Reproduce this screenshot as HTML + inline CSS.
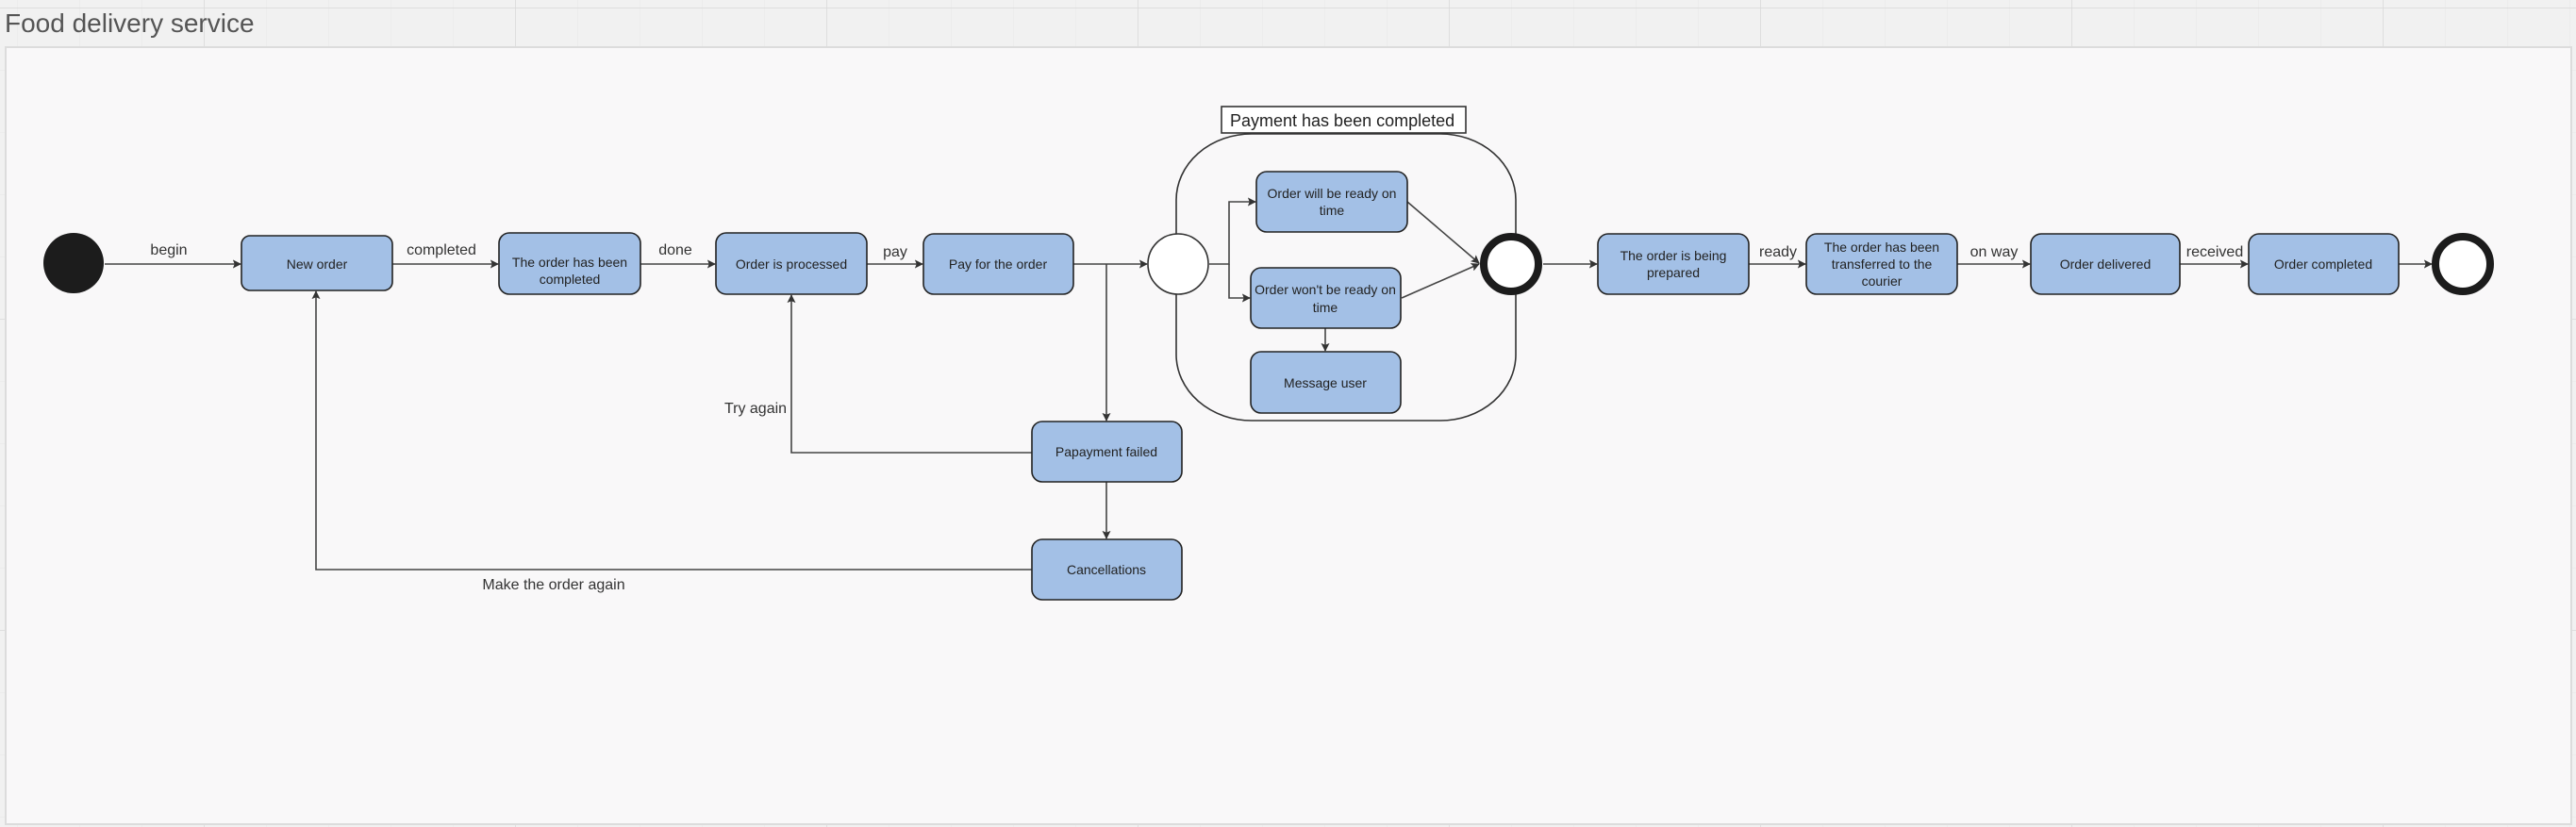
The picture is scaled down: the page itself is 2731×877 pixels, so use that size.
<!DOCTYPE html>
<html><head><meta charset="utf-8"><style>
html,body{margin:0;padding:0;background:#f1f1f1;}
svg{display:block;font-family:"Liberation Sans",sans-serif;}
</style></head><body>
<svg width="2731" height="877" viewBox="0 0 2731 877" xmlns="http://www.w3.org/2000/svg">
<defs>
<pattern id="minor" width="66" height="66" patternUnits="userSpaceOnUse" x="18" y="8">
<path d="M0 0V66M0 0H66" stroke="#e6e6e6" stroke-width="1" fill="none"/>
</pattern>
<pattern id="major" width="330" height="330" patternUnits="userSpaceOnUse" x="216" y="8">
<path d="M0 0V330M0 0H330" stroke="#d8d8d8" stroke-width="1.5" fill="none"/>
</pattern>
<marker id="ar" viewBox="0 0 10 10" refX="9" refY="5" markerWidth="9" markerHeight="9" markerUnits="userSpaceOnUse" orient="auto">
<path d="M0 0L10 5L0 10L2 5z" fill="#333"/>
</marker>
</defs>
<rect width="2731" height="877" fill="#f1f1f1"/>
<rect width="2731" height="877" fill="url(#minor)"/>
<rect width="2731" height="877" fill="url(#major)"/>
<text x="5" y="34" font-size="28" fill="#555">Food delivery service</text>
<rect x="6" y="50" width="2720" height="824" fill="#f9f8f9" stroke="#dcdcdc" stroke-width="2"/>

<g stroke="#444" stroke-width="1.6" fill="none">
<line x1="111" y1="280" x2="255" y2="280" marker-end="url(#ar)"/>
<line x1="416" y1="280" x2="528" y2="280" marker-end="url(#ar)"/>
<line x1="679" y1="280" x2="758" y2="280" marker-end="url(#ar)"/>
<line x1="919" y1="280" x2="978" y2="280" marker-end="url(#ar)"/>
<line x1="1138" y1="280" x2="1216" y2="280" marker-end="url(#ar)"/>
<line x1="1173" y1="280" x2="1173" y2="446" marker-end="url(#ar)"/>
<line x1="1173" y1="511" x2="1173" y2="571" marker-end="url(#ar)"/>
<polyline points="1094,480 839,480 839,313" marker-end="url(#ar)"/>
<polyline points="1094,604 335,604 335,309" marker-end="url(#ar)"/>
<polyline points="1282,280 1303,280 1303,214 1331,214" marker-end="url(#ar)"/>
<polyline points="1303,280 1303,316 1325,316" marker-end="url(#ar)"/>
<line x1="1405" y1="348" x2="1405" y2="372" marker-end="url(#ar)"/>
<line x1="1492" y1="214" x2="1568" y2="279" marker-end="url(#ar)"/>
<line x1="1486" y1="316" x2="1568" y2="280" marker-end="url(#ar)"/>
<line x1="1636" y1="280" x2="1693" y2="280" marker-end="url(#ar)"/>
<line x1="1854" y1="280" x2="1914" y2="280" marker-end="url(#ar)"/>
<line x1="2075" y1="280" x2="2152" y2="280" marker-end="url(#ar)"/>
<line x1="2311" y1="280" x2="2383" y2="280" marker-end="url(#ar)"/>
<line x1="2543" y1="280" x2="2578" y2="280" marker-end="url(#ar)"/>
</g>

<!-- container -->
<rect x="1247" y="142" width="360" height="304" rx="80" ry="70" fill="none" stroke="#333" stroke-width="1.6"/>
<rect x="1295" y="113" width="259" height="28" fill="#fff" stroke="#333" stroke-width="1.6"/>
<text x="1304" y="134" font-size="18" fill="#222">Payment has been completed</text>

<circle cx="78" cy="279" r="32" fill="#1c1c1c"/>
<circle cx="1249" cy="280" r="32" fill="#fff" stroke="#333" stroke-width="1.6"/>
<circle cx="1602" cy="280" r="29" fill="#fff" stroke="#1c1c1c" stroke-width="8"/>
<circle cx="2611" cy="280" r="29" fill="#fff" stroke="#1c1c1c" stroke-width="8"/>

<g fill="#a3c0e6" stroke="#222" stroke-width="1.6">
<rect x="256" y="250" width="160" height="58" rx="9"/>
<rect x="529" y="247" width="150" height="65" rx="11"/>
<rect x="759" y="247" width="160" height="65" rx="11"/>
<rect x="979" y="248" width="159" height="64" rx="11"/>
<rect x="1332" y="182" width="160" height="64" rx="11"/>
<rect x="1326" y="284" width="159" height="64" rx="11"/>
<rect x="1326" y="373" width="159" height="65" rx="11"/>
<rect x="1094" y="447" width="159" height="64" rx="11"/>
<rect x="1094" y="572" width="159" height="64" rx="11"/>
<rect x="1694" y="248" width="160" height="64" rx="11"/>
<rect x="1915" y="248" width="160" height="64" rx="11"/>
<rect x="2153" y="248" width="158" height="64" rx="11"/>
<rect x="2384" y="248" width="159" height="64" rx="11"/>
</g>

<g font-size="14" fill="#222" text-anchor="middle">
<text x="336" y="285">New order</text>
<text x="604" y="283">The order has been</text>
<text x="604" y="301">completed</text>
<text x="839" y="285">Order is processed</text>
<text x="1058" y="285">Pay for the order</text>
<text x="1412" y="210">Order will be ready on</text>
<text x="1412" y="228">time</text>
<text x="1405" y="312">Order won't be ready on</text>
<text x="1405" y="331">time</text>
<text x="1405" y="411">Message user</text>
<text x="1173" y="484">Papayment failed</text>
<text x="1173" y="609">Cancellations</text>
<text x="1774" y="276">The order is being</text>
<text x="1774" y="294">prepared</text>
<text x="1995" y="267">The order has been</text>
<text x="1995" y="285">transferred to the</text>
<text x="1995" y="303">courier</text>
<text x="2232" y="285">Order delivered</text>
<text x="2463" y="285">Order completed</text>
</g>

<g font-size="16" fill="#333" text-anchor="middle">
<text x="179" y="270">begin</text>
<text x="468" y="270">completed</text>
<text x="716" y="270">done</text>
<text x="949" y="272">pay</text>
<text x="1885" y="272">ready</text>
<text x="2114" y="272">on way</text>
<text x="2348" y="272">received</text>
<text x="801" y="438">Try again</text>
<text x="587" y="625">Make the order again</text>
</g>
</svg>
</body></html>
